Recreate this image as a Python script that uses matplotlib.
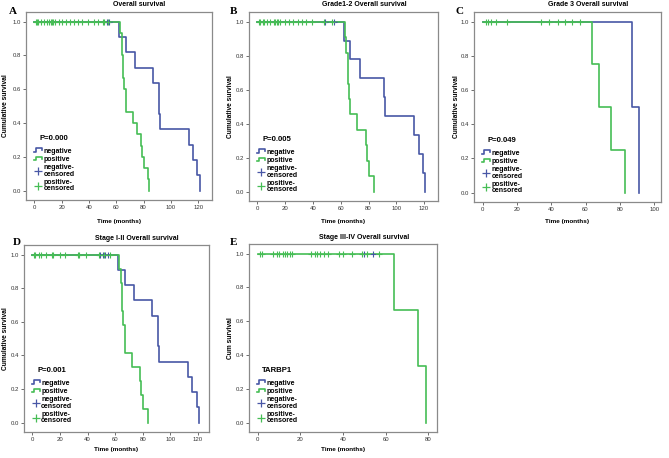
import matplotlib
matplotlib.use("Agg")
import matplotlib.pyplot as plt
from matplotlib.lines import Line2D
from matplotlib.legend_handler import HandlerLine2D

plt.rcParams["font.family"] = ["Liberation Sans", "DejaVu Sans"]

# ---------------- data ----------------
# Panel A: Overall survival
a_neg_t = [0, 62, 67, 74, 87, 91, 92, 113, 116, 119, 121]
a_neg_s = [1.0, 0.909, 0.818, 0.727, 0.636, 0.455, 0.364, 0.273, 0.182, 0.091, 0.0]
a_pos_t = [0, 63, 64, 65, 66, 67, 72, 75, 78, 79, 80, 83, 84]
a_pos_s = [1.0, 0.933, 0.8, 0.667, 0.6, 0.467, 0.4, 0.333, 0.267, 0.2, 0.133, 0.067, 0.0]
a_neg_cens = [53, 55]
a_pos_cens = [1, 2, 3, 5, 7, 9, 11, 12, 13, 14, 15, 18, 20, 23, 26, 29, 32, 35, 39, 44, 47, 50, 51, 54]
a_p = "P=0.000"

# Panel B: Grade1-2 Overall survival
b_neg_t = [0, 62, 67, 74, 91, 92, 113, 116, 119, 121]
b_neg_s = [1.0, 0.889, 0.778, 0.667, 0.556, 0.444, 0.333, 0.222, 0.111, 0.0]
b_pos_t = [0, 63, 64, 65, 66, 67, 72, 78, 79, 80, 84]
b_pos_s = [1.0, 0.909, 0.818, 0.636, 0.545, 0.455, 0.364, 0.273, 0.182, 0.091, 0.0]
b_neg_cens = [49, 55]
b_pos_cens = [1, 2, 4, 5, 7, 9, 12, 13, 14, 15, 16, 20, 23, 26, 29, 32, 35, 39, 48, 54]
b_p = "P=0.005"

# Panel C: Grade 3 Overall survival
c_neg_t = [0, 87, 91]
c_neg_s = [1.0, 0.5, 0.0]
c_pos_t = [0, 64, 68, 75, 83]
c_pos_s = [1.0, 0.75, 0.5, 0.25, 0.0]
c_neg_cens = []
c_pos_cens = [2, 3, 5, 8, 14, 34, 39, 44, 48, 52, 57]
c_p = "P=0.049"

# Panel D: Stage I-II Overall survival
d_neg_t = [0, 62, 67, 74, 87, 91, 92, 113, 116, 119, 121]
d_neg_s = [1.0, 0.909, 0.818, 0.727, 0.636, 0.455, 0.364, 0.273, 0.182, 0.091, 0.0]
d_pos_t = [0, 63, 64, 65, 66, 67, 72, 78, 79, 80, 83, 84]
d_pos_s = [1.0, 0.917, 0.833, 0.667, 0.583, 0.417, 0.333, 0.25, 0.167, 0.083, 0.083, 0.0]
d_neg_cens = [49, 51, 53, 55]
d_pos_cens = [1, 2, 5, 6, 10, 14, 15, 20, 24, 33, 34, 39, 48, 52, 56]
d_p = "P=0.001"

# Panel E: Stage III-IV Overall survival
e_neg_t = []
e_neg_s = []
e_pos_t = [0, 64, 75, 79]
e_pos_s = [1.0, 0.667, 0.333, 0.0]
e_neg_cens = [50, 54]
e_pos_cens = [1, 2, 7, 9, 10, 12, 13, 14, 15, 16, 25, 27, 28, 29, 31, 33, 38, 40, 44, 49, 51, 57]
e_p = "TARBP1"

legend_labels = ["negative", "positive", "negative-\ncensored", "positive-\ncensored"]

BLUE = "#4857a6"
GREEN = "#46bd55"
FRAME = "#8a8a8a"

W, H = 669, 458
fig = plt.figure(figsize=(W / 100, H / 100), dpi=100)
fig.patch.set_facecolor("white")


class StepHandler(HandlerLine2D):
    def create_artists(self, legend, orig_handle, xdescent, ydescent,
                       width, height, fontsize, trans):
        x0 = -xdescent
        y0 = -ydescent
        xs = [x0, x0 + 0.3 * width, x0 + 0.3 * width, x0 + width, x0 + width]
        ys = [y0 + 0.15 * height, y0 + 0.15 * height, y0 + 0.9 * height,
              y0 + 0.9 * height, y0 + 0.5 * height]
        ln = Line2D(xs, ys, color=orig_handle.get_color(), lw=1.2)
        ln.set_transform(trans)
        return [ln]


def panel(rect_px, letter, letter_px, title, title_y, xlim, xticks, ylabel,
          ylabel_x, xlabel_y,
          neg_t, neg_s, pos_t, pos_s, neg_c, pos_c, ptext):
    x0, y0, x1, y1 = rect_px
    ax = fig.add_axes([x0 / W, 1 - y1 / H, (x1 - x0) / W, (y1 - y0) / H])
    for sp in ax.spines.values():
        sp.set_color(FRAME)
        sp.set_linewidth(0.9)
    if neg_t:
        ax.step(neg_t, neg_s, where="post", color=BLUE, lw=1.2)
    if pos_t:
        ax.step(pos_t, pos_s, where="post", color=GREEN, lw=1.2)
    if neg_c:
        ax.plot(neg_c, [1.0] * len(neg_c), "+", color=BLUE, ms=4, mew=0.8)
    if pos_c:
        ax.plot(pos_c, [1.0] * len(pos_c), "+", color=GREEN, ms=4, mew=0.8)
    ax.set_xlim(*xlim)
    ax.set_ylim(-0.055, 1.057)
    ax.set_xticks(xticks)
    ax.set_yticks([0.0, 0.2, 0.4, 0.6, 0.8, 1.0])
    ax.set_yticklabels(["0.0", "0.2", "0.4", "0.6", "0.8", "1.0"])
    ax.tick_params(labelsize=4.3, length=2, width=0.6, color="#555555",
                   labelcolor="#333333", pad=1.5)
    ax.set_xlabel("Time (months)", fontsize=4.6, fontweight="bold", va="center")
    ax.xaxis.set_label_coords(0.5, (y1 - xlabel_y) / (y1 - y0))
    ax.set_ylabel(ylabel, fontsize=4.8, fontweight="bold", va="center")
    ax.yaxis.set_label_coords((ylabel_x - x0) / (x1 - x0), 0.5)
    ax.text(0.61, (y1 - title_y) / (y1 - y0), title, transform=ax.transAxes,
            ha="center", va="center", fontsize=5.0, fontweight="bold")
    fig.text(letter_px[0] / W, 1 - letter_px[1] / H, letter, fontsize=8,
             fontweight="bold", family="Liberation Serif", ha="left", va="center")

    h1 = Line2D([], [], color=BLUE)
    h2 = Line2D([], [], color=GREEN)
    h3 = Line2D([], [], color=BLUE, marker="+", ls="None", ms=6, mew=0.9)
    h4 = Line2D([], [], color=GREEN, marker="+", ls="None", ms=6, mew=0.9)
    leg = ax.legend([h1, h2, h3, h4], legend_labels, loc="lower left",
                    bbox_to_anchor=(0.02, 0.02), frameon=False,
                    prop={"size": 5.0, "weight": "bold"},
                    title=ptext, title_fontproperties={"size": 5.6, "weight": "bold"},
                    handlelength=1.2, handletextpad=0.15, labelspacing=0.18,
                    borderpad=0.1, handler_map={h1: StepHandler(), h2: StepHandler()})
    leg._legend_box.sep = 4
    for t in leg.get_texts():
        t.set_linespacing(0.85)
    return ax


panel((26, 12, 212, 200), "A", (9, 11), "Overall survival", 5, (-6, 130),
      [0, 20, 40, 60, 80, 100, 120], "Cumulative survival", 6, 221,
      a_neg_t, a_neg_s, a_pos_t, a_pos_s, a_neg_cens, a_pos_cens, a_p)
panel((249, 12, 438, 201), "B", (230, 11), "Grade1-2 Overall survival", 5, (-6, 130),
      [0, 20, 40, 60, 80, 100, 120], "Cumulative survival", 231, 221,
      b_neg_t, b_neg_s, b_pos_t, b_pos_s, b_neg_cens, b_pos_cens, b_p)
panel((474, 12, 661, 202), "C", (455, 11), "Grade 3 Overall survival", 5, (-5, 104),
      [0, 20, 40, 60, 80, 100], "Cumulative survival", 456, 221,
      c_neg_t, c_neg_s, c_pos_t, c_pos_s, c_neg_cens, c_pos_cens, c_p)
panel((24, 245, 209, 432), "D", (13, 243), "Stage I-II Overall survival", 238, (-6, 128),
      [0, 20, 40, 60, 80, 100, 120], "Cumulative survival", 6, 450,
      d_neg_t, d_neg_s, d_pos_t, d_pos_s, d_neg_cens, d_pos_cens, d_p)
panel((249, 244, 437, 432), "E", (230, 243), "Stage III-IV Overall survival", 238, (-4, 84),
      [0, 20, 40, 60, 80], "Cum survival", 231, 450,
      e_neg_t, e_neg_s, e_pos_t, e_pos_s, e_neg_cens, e_pos_cens, e_p)

fig.savefig("out.png", dpi=100, facecolor="white")
